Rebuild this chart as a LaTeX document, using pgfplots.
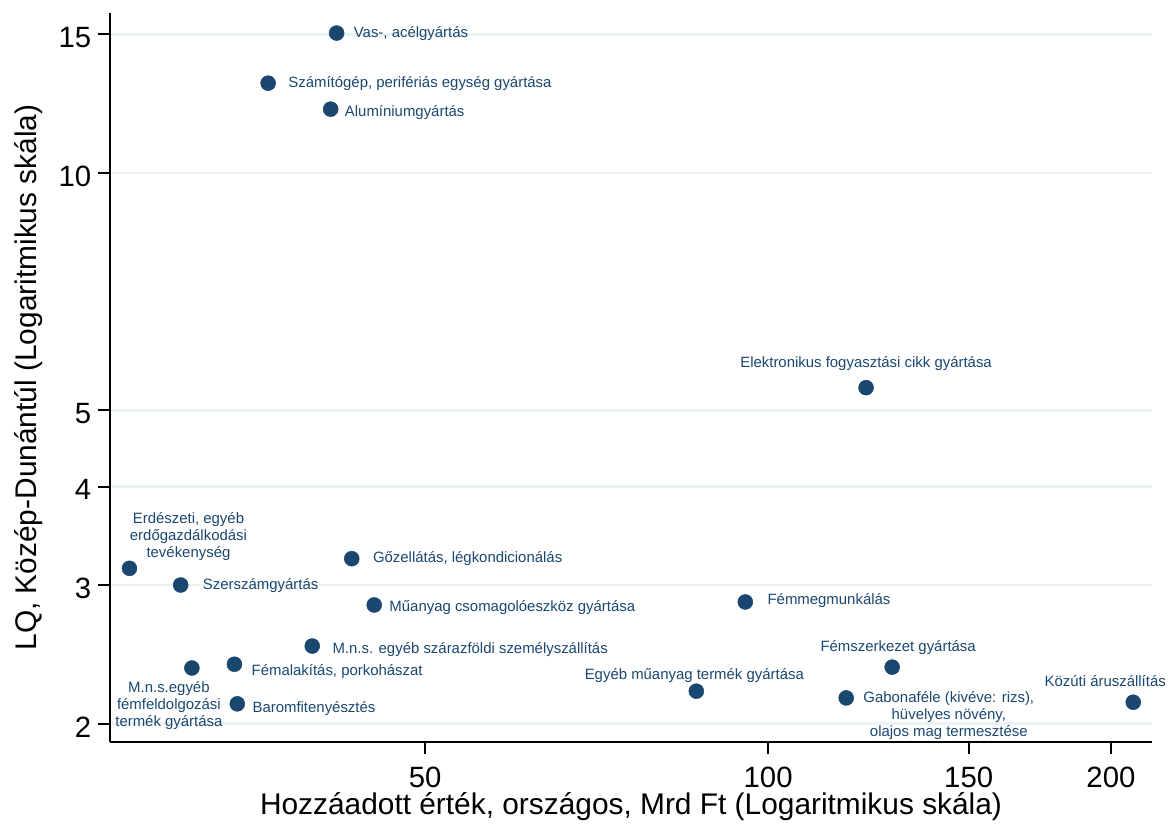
\documentclass[border=0pt]{standalone}
\usepackage{fontspec}
\setmainfont{Liberation Sans}
\usepackage{pgfplots}
\pgfplotsset{compat=1.18}
\definecolor{navy}{RGB}{26,71,111}
\definecolor{gridc}{RGB}{234,242,243}
\begin{document}
\begin{tikzpicture}[lab/.style={font=\fontsize{11.2}{12.75}\selectfont, text=navy, inner sep=0pt, align=center}]
\begin{axis}[
  name=ax, at={(0,0)}, anchor=south west,
  scale only axis, width=781.5pt, height=546.75pt,
  xmode=log, ymode=log,
  xmin=26.44, xmax=217.3, ymin=1.8966, ymax=15.96,
  axis lines=left, axis line style={-, black, line width=1.5pt},
  xtick={50,100,150,200}, xticklabels={50,100,150,200},
  ytick={2,3,4,5,10,15}, yticklabels={2,3,4,5,10,15},
  xminorticks=false, yminorticks=false,
  tick align=outside, major tick length=9pt,
  major tick style={black, line width=1.5pt},
  ymajorgrids, major grid style={gridc, line width=2pt},
  /pgf/number format/assume math mode=true,
  ticklabel style={font=\fontsize{22}{26}\selectfont, inner sep=0pt},
  yticklabel style={anchor=east, xshift=-5pt, yshift=-2.25pt},
  xticklabel style={anchor=north, yshift=-9.5pt},
  label style={font=\fontsize{22.4}{26}\selectfont},
  xlabel={Hozzáadott érték, országos, Mrd Ft (Logaritmikus skála)},
  ylabel={LQ, Közép-Dunántúl (Logaritmikus skála)},
  xlabel style={at={(axis description cs:0.5,-0.1)}, anchor=base},
  ylabel style={at={(axis description cs:-0.0777,0.5)}, anchor=center},
  clip=false,
]
\addplot[only marks, mark=*, mark size=5.6pt, color=navy, mark options={draw=navy, fill=navy}] table {
x y
41.8 15.05
36.4 13.0
41.3 12.05
121.9 5.34
27.5 3.15
30.5 3.0
43.1 3.24
45.1 2.83
95.5 2.855
39.8 2.51
31.2 2.354
34.0 2.38
34.2 2.12
86.5 2.20
128.5 2.36
117.1 2.157
209.2 2.13
};
\node[lab, anchor=west, xshift=12.75pt] at (axis cs:41.8,15.05) {Vas-, acélgyártás};
\node[lab, anchor=west, xshift=15pt] at (axis cs:36.4,13.0) {Számítógép, perifériás egység gyártása};
\node[lab, anchor=west, xshift=10.5pt, yshift=-2.25pt] at (axis cs:41.3,12.05) {Alumíniumgyártás};
\node[lab, anchor=south, yshift=12.75pt] at (axis cs:121.9,5.34) {Elektronikus fogyasztási cikk gyártása};
\node[lab, anchor=south, xshift=44.25pt, yshift=5.25pt] at (axis cs:27.5,3.15) {Erdészeti, egyéb\\erdőgazdálkodási\\tevékenység};
\node[lab, anchor=west, xshift=16.5pt, yshift=-0.75pt] at (axis cs:30.5,3.0) {Szerszámgyártás};
\node[lab, anchor=west, xshift=15.75pt] at (axis cs:43.1,3.24) {Gőzellátás, légkondicionálás};
\node[lab, anchor=west, xshift=11.25pt, yshift=-2.25pt] at (axis cs:45.1,2.83) {Műanyag csomagolóeszköz gyártása};
\node[lab, anchor=west, xshift=16.5pt, yshift=0.75pt] at (axis cs:95.5,2.855) {Fémmegmunkálás};
\node[lab, anchor=west, xshift=15pt, yshift=-3pt] at (axis cs:39.8,2.51) {M.n.s. egyéb szárazföldi személyszállítás};
\node[lab, anchor=north, xshift=-17.25pt, yshift=-9.75pt] at (axis cs:31.2,2.354) {M.n.s.egyéb\\fémfeldolgozási\\termék gyártása};
\node[lab, anchor=west, xshift=12.75pt, yshift=-5.25pt] at (axis cs:34.0,2.38) {Fémalakítás, porkohászat};
\node[lab, anchor=west, xshift=11.25pt, yshift=-3.75pt] at (axis cs:34.2,2.12) {Baromfitenyésztés};
\node[lab, anchor=south, xshift=-1.5pt, yshift=6.5pt] at (axis cs:86.5,2.20) {Egyéb műanyag termék gyártása};
\node[lab, anchor=south, xshift=4.5pt, yshift=9pt] at (axis cs:128.5,2.36) {Fémszerkezet gyártása};
\node[lab, anchor=north west, xshift=12.75pt, yshift=5pt] at (axis cs:117.1,2.157) {Gabonaféle (kivéve: rizs),\\hüvelyes növény,\\olajos mag termesztése};
\node[lab, anchor=south, xshift=-21pt, yshift=11.25pt] at (axis cs:209.2,2.13) {Közúti áruszállítás};
\end{axis}
\pgfresetboundingbox
\path[use as bounding box] ([xshift=-82.5pt, yshift=-61.5pt]ax.south west) rectangle ([xshift=12pt, yshift=9.75pt]ax.north east);
\end{tikzpicture}
\end{document}
